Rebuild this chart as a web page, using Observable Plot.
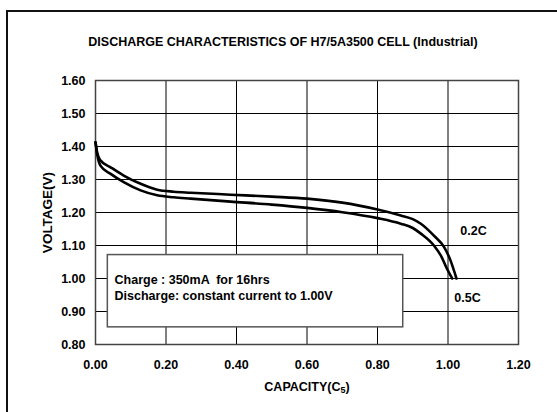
<!DOCTYPE html>
<html><head><meta charset="utf-8">
<script src="https://cdn.jsdelivr.net/npm/d3@7"></script>
<script src="https://cdn.jsdelivr.net/npm/@observablehq/plot@0.6"></script>
<style>
html,body{margin:0;padding:0;background:#fff;}
#wrap{position:relative;width:557px;height:412px;overflow:hidden;font-family:"Liberation Sans",Arial,sans-serif;color:#000;}
#border{position:absolute;left:6px;top:10px;width:600px;height:500px;border-top:2px solid #111;border-left:2px solid #111;}
#title{position:absolute;left:0;top:35px;width:566px;text-align:center;font-weight:bold;font-size:12.5px;line-height:15px;}
#chart{position:absolute;left:0;top:60px;}
svg text{white-space:pre;}
</style>
</head><body>
<div id="wrap">
  <div id="border"></div>
  <div id="title">DISCHARGE CHARACTERISTICS OF H7/5A3500 CELL (Industrial)</div>
  <div id="chart"></div>
</div>
<script>
// ---- data ----
const xTicks = [0, 0.2, 0.4, 0.6, 0.8, 1.0, 1.2];
const yTicks = [0.8, 0.9, 1.0, 1.1, 1.2, 1.3, 1.4, 1.5, 1.6];

const cap02 = [0, 0.005, 0.014, 0.043, 0.080, 0.128, 0.175, 0.222, 0.27, 0.383, 0.5, 0.6, 0.7, 0.8, 0.866, 0.9, 0.923, 0.96, 0.989, 1.007, 1.024];
const volt02 = [1.413, 1.38, 1.358, 1.337, 1.312, 1.287, 1.269, 1.263, 1.260, 1.254, 1.248, 1.242, 1.23, 1.209, 1.191, 1.18, 1.166, 1.13, 1.095, 1.055, 1.0];

const cap05 = [0, 0.005, 0.014, 0.043, 0.080, 0.128, 0.175, 0.222, 0.27, 0.383, 0.5, 0.6, 0.7, 0.8, 0.866, 0.9, 0.923, 0.96, 0.982, 0.995, 1.012];
const volt05 = [1.413, 1.375, 1.342, 1.317, 1.292, 1.267, 1.252, 1.246, 1.242, 1.233, 1.224, 1.214, 1.201, 1.183, 1.166, 1.153, 1.136, 1.1, 1.065, 1.034, 1.0];

const seriesNames = ["0.2C", "0.5C"];
const seriesLabelX = [1.035, 1.018];
const seriesLabelY = [1.143, 0.942];

const noteLines = ["Charge : 350mA  for 16hrs", "Discharge: constant current to 1.00V"];
const noteLineX = [0.054, 0.054];
const noteLineY = [0.994, 0.948];
const noteBox = {x1: 0.035, x2: 0.873, y1: 0.852, y2: 1.071};

const xTitle = "CAPACITY(C5)";
const yTitle = "VOLTAGE(V)";

// ---- build ----
const rows02 = cap02.map((c, i) => ({c, v: volt02[i]}));
const rows05 = cap05.map((c, i) => ({c, v: volt05[i]}));
const labels = seriesNames.map((t, i) => ({t, x: seriesLabelX[i], y: seriesLabelY[i]}));
const notes = noteLines.map((t, i) => ({t, x: noteLineX[i], y: noteLineY[i]}));
const fmt = d3.format(".2f");

const chart = Plot.plot({
  width: 557, height: 352,
  marginLeft: 95, marginRight: 39, marginTop: 20, marginBottom: 68,
  style: {fontFamily: "'Liberation Sans', Arial, sans-serif", fontSize: "12.5px", fontWeight: "bold", background: "transparent", color: "#000", overflow: "visible"},
  x: {domain: [0, 1.2], label: null},
  y: {domain: [0.8, 1.6], label: null},
  marks: [
    Plot.gridX(xTicks, {stroke: "#000", strokeOpacity: 1, strokeWidth: 1}),
    Plot.gridY(yTicks, {stroke: "#000", strokeOpacity: 1, strokeWidth: 1}),
    Plot.rect([noteBox], {x1: "x1", x2: "x2", y1: "y1", y2: "y2", fill: "#fff", stroke: "#555", strokeWidth: 1.5}),
    Plot.frame({stroke: "#444", strokeWidth: 1.5}),
    Plot.line(rows02, {x: "c", y: "v", curve: "monotone-x", stroke: "#000", strokeWidth: 2.6}),
    Plot.line(rows05, {x: "c", y: "v", curve: "monotone-x", stroke: "#000", strokeWidth: 2.6}),
    Plot.text(notes, {x: "x", y: "y", text: "t", textAnchor: "start", fill: "#000", fontSize: 12.5}),
    Plot.text(labels, {x: "x", y: "y", text: "t", textAnchor: "start", fill: "#000", fontSize: 12.5}),
    Plot.text([yTitle], {frameAnchor: "left", text: d => d, textAnchor: "middle", rotate: -90, dx: -48, fill: "#000", fontSize: 13.5}),
    Plot.text([xTitle], {frameAnchor: "bottom", text: d => d, textAnchor: "middle", dy: 46, fill: "#000", fontSize: 12.5}),
    Plot.axisX(xTicks, {tickSize: 0, tickPadding: 16, tickFormat: fmt, label: null, fill: "#000", fontSize: 12.5}),
    Plot.axisY(yTicks, {tickSize: 0, tickPadding: 10, tickFormat: fmt, label: null, fill: "#000", fontSize: 12.5})
  ]
});
document.getElementById("chart").appendChild(chart);

// subscript "5" in the x title
d3.select(chart).selectAll("text").filter(function() { return this.textContent === xTitle; }).each(function() {
  const t = d3.select(this);
  t.text(null);
  t.append("tspan").text("CAPACITY(C");
  t.append("tspan").text("5").attr("font-size", "9px").attr("dy", "2");
  t.append("tspan").text(")").attr("dy", "-2");
});
</script>
</body></html>
